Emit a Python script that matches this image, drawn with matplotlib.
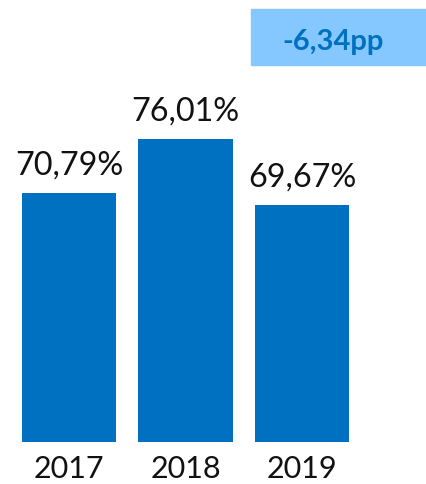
import matplotlib.pyplot as plt

anos = ["2017", "2018", "2019"]
valores = [70.79, 76.01, 69.67]
rotulos = ["70,79%", "76,01%", "69,67%"]
variacao = "-6,34pp"

plt.rcParams['font.family'] = ['Lato', 'DejaVu Sans']

fig = plt.figure(figsize=(4.26, 4.85), dpi=100)
# eixo ocupa a figura inteira acima da linha de base
ax = fig.add_axes([0, 42 / 485, 1, 443 / 485])

x = range(len(anos))
barras = ax.bar(x, valores, width=0.807, color="#0070C0")
ax.set_xlim(-0.592, 3.064)
ax.set_ylim(46.55, 89.68)

for b, r in zip(barras, rotulos):
    ax.annotate(r, (b.get_x() + b.get_width() / 2, b.get_height()),
                xytext=(0, 14), textcoords="offset points",
                ha="center", va="baseline", fontsize=23.3, color="#111111")

ax.set_xticks(list(x))
ax.set_xticklabels(anos, fontsize=22, color="#111111")
ax.tick_params(axis="x", length=0, pad=9)
ax.set_yticks([])
for s in ax.spines.values():
    s.set_visible(False)

# caixa com a variacao
fig.patches.append(plt.Rectangle((251 / 426, 1 - 66 / 485), 175 / 426, 56 / 485,
                                 transform=fig.transFigure, color="#85C8FF", zorder=0))
fig.text(333 / 426, 1 - 50 / 485, variacao, ha="center", va="baseline",
         fontsize=21, fontweight="bold", color="#0070C0")

plt.savefig("out.png", dpi=100)
